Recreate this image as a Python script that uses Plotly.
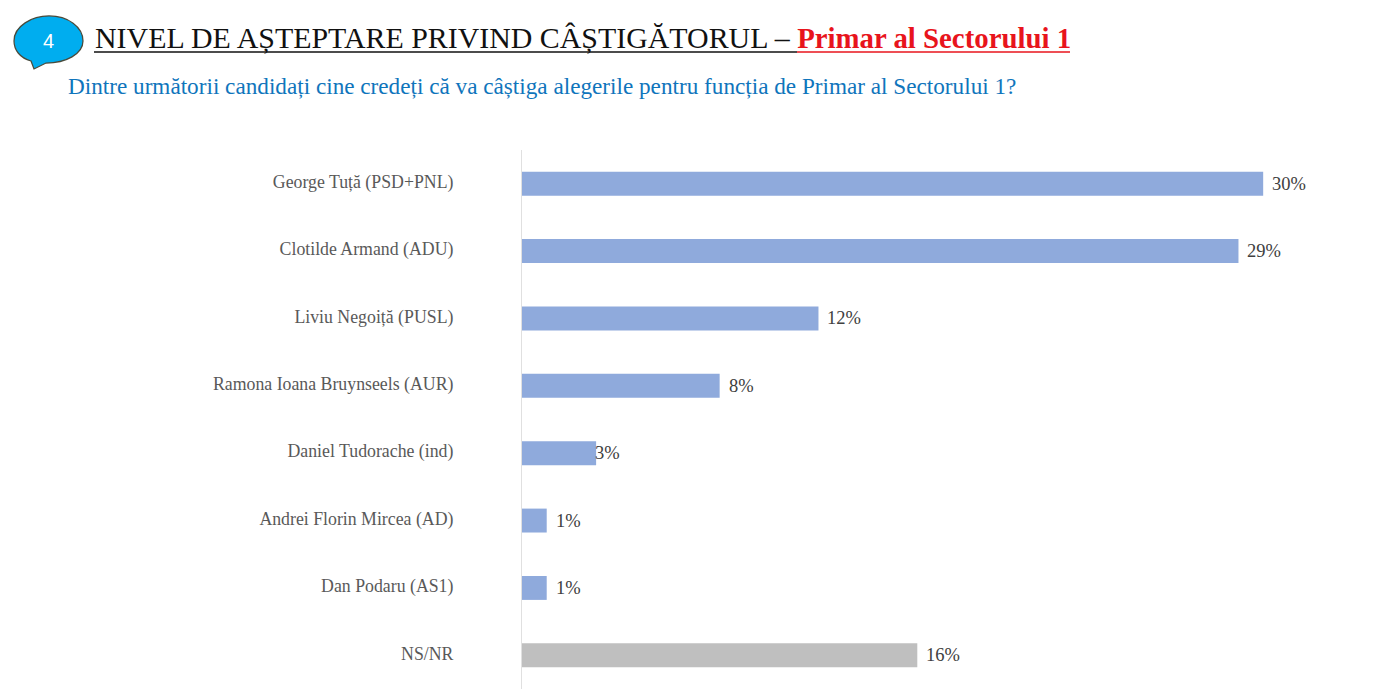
import plotly.graph_objects as go

categories = ["George Tuță (PSD+PNL)", "Clotilde Armand (ADU)", "Liviu Negoiță (PUSL)",
              "Ramona Ioana Bruynseels (AUR)", "Daniel Tudorache (ind)",
              "Andrei Florin Mircea (AD)", "Dan Podaru (AS1)", "NS/NR"]
values = [30, 29, 12, 8, 3, 1, 1, 16]
colors = ["#8faadc"] * 7 + ["#bfbfbf"]
label_shift = [7, 7, 7, 7, -3, 7, 7, 7]

W, H = 1400, 700
L, R, T, B = 522, 38, 150, 11
SERIF = "Liberation Serif"

def px(x): return (x - L) / (W - L - R)
def py(y): return 1 - (y - T) / (H - T - B)

fig = go.Figure(go.Bar(
    x=values, y=categories, orientation="h",
    marker=dict(color=colors, line_width=0),
    width=0.355, hoverinfo="skip",
))

annotations = [dict(x=v, y=c, xref="x", yref="y", xanchor="left", xshift=s, yshift=0,
                    text=f"{v}%", showarrow=False,
                    font=dict(family=SERIF, size=18.5, color="#404040"))
               for v, c, s in zip(values, categories, label_shift)]

annotations += [
    dict(x=px(92.5), y=py(38), xref="paper", yref="paper", xanchor="left", yanchor="middle",
         showarrow=False, align="left",
         text='NIVEL DE AȘTEPTARE PRIVIND CÂȘTIGĂTORUL – '
              '<span style="color:#e8141c;font-size:28.8px"><b>Primar al Sectorului 1</b></span>',
         font=dict(family=SERIF, size=29.9, color="#111111")),
    dict(x=px(66), y=py(86), xref="paper", yref="paper", xanchor="left", yanchor="middle",
         showarrow=False, align="left",
         text="Dintre următorii candidați cine credeți că va câștiga alegerile pentru funcția de Primar al Sectorului 1?",
         font=dict(family=SERIF, size=23.2, color="#0f75bc")),
    dict(x=px(48), y=py(41), xref="paper", yref="paper", xanchor="center", yanchor="middle",
         showarrow=False, text="4",
         font=dict(family="Liberation Sans", size=20, color="white")),
]

bubble = ("M {} {} C {} {} {} {} {} {} C {} {} {} {} {} {} "
          "C {} {} {} {} {} {} L {} {} L {} {} C {} {} {} {} {} {} Z").format(
    *[f"{v:.5f}" for v in [
        px(14), py(41),
        px(14), py(26), px(32), py(16), px(49), py(16),
        px(68), py(16), px(83), py(27), px(83), py(41),
        px(83), py(54), px(66), py(63), px(46), py(63),
        px(34), py(69), px(31), py(61),
        px(20), py(58), px(14), py(50), px(14), py(41),
    ]])

shapes = [
    dict(type="path", xref="paper", yref="paper", path=bubble,
         fillcolor="#00adef", line=dict(color="#4a4a3a", width=1.25)),
    dict(type="line", xref="paper", yref="paper", x0=px(94), x1=px(797), y0=py(52), y1=py(52),
         line=dict(color="#111111", width=1.5)),
    dict(type="line", xref="paper", yref="paper", x0=px(797), x1=px(1070), y0=py(52), y1=py(52),
         line=dict(color="#e8141c", width=1.5)),
]

fig.update_layout(
    width=W, height=H, autosize=False,
    margin=dict(l=L, r=R, t=T, b=B),
    paper_bgcolor="white", plot_bgcolor="white",
    showlegend=False, bargap=0.6,
    annotations=annotations, shapes=shapes,
    xaxis=dict(range=[0, 34], visible=False, fixedrange=True),
    yaxis=dict(autorange="reversed", showgrid=False, zeroline=False,
               showline=True, linecolor="#e0e0e0", linewidth=1,
               ticks="", ticklabelstandoff=64, ticklabelshift=2,
               tickfont=dict(family=SERIF, size=17.8, color="#595959")),
)

fig.write_html("out.html", config=dict(displayModeBar=False),
               post_script="document.body.style.margin='0';")
